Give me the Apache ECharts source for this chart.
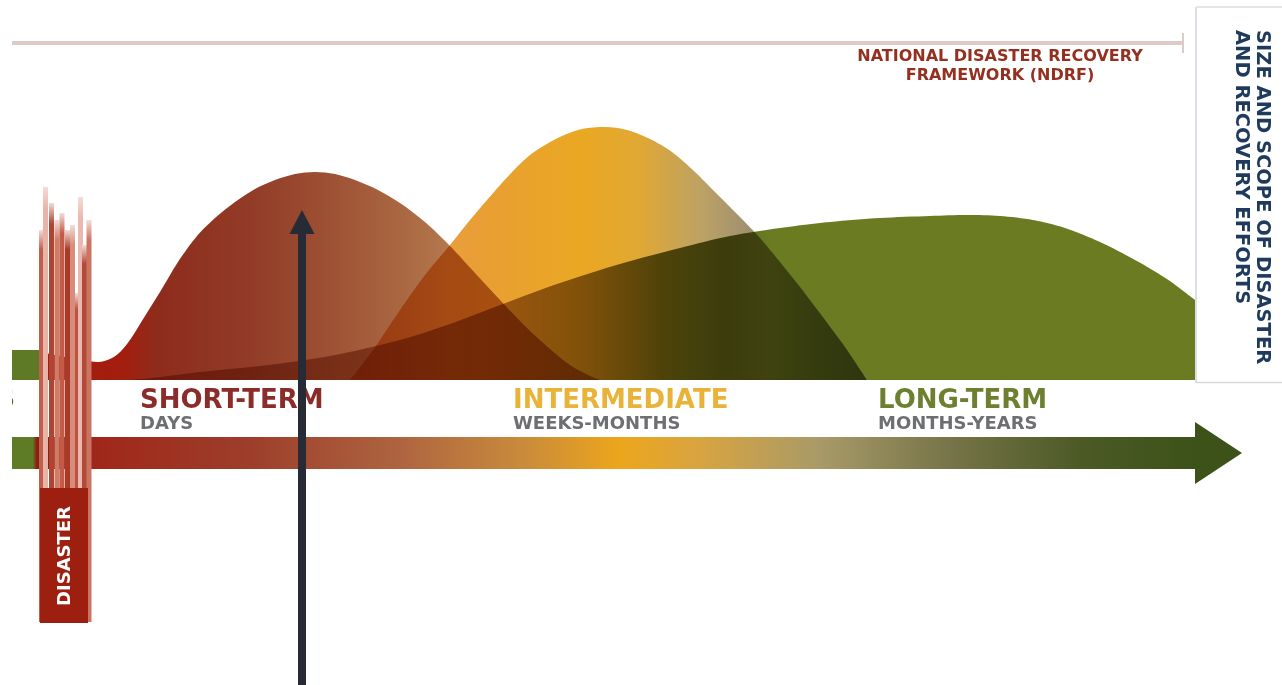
<!DOCTYPE html>
<html>
<head>
<meta charset="utf-8">
<title>Recovery Continuum</title>
<script src="https://cdn.jsdelivr.net/npm/echarts@6/dist/echarts.min.js"></script>
<style>
  html, body { margin: 0; padding: 0; background: #ffffff; }
  #chart { width: 1282px; height: 685px; }
</style>
</head>
<body>
<div id="chart"></div>
<script>
// Recovery continuum: x runs along the timeline arrow, y is the size and scope
// of the recovery effort measured up from the baseline.
const preparedness = [[12, 30], [40, 30]];
const shortTerm = [[40, 28], [60, 24], [80, 20], [98, 18], [112, 22], [122, 30], [132, 43], [145, 64], [160, 88], [178, 118], [197, 144], [215, 162], [235, 178], [255, 191], [275, 200], [295, 206], [315, 208], [335, 206], [355, 200], [378, 190], [400, 177], [425, 158], [450, 134], [475, 107], [500, 80], [525, 54], [550, 31], [570, 15], [590, 4], [600, 0]];
const intermediate = [[350, 0], [373, 30], [400, 70], [425, 105], [450, 135], [470, 160], [487, 180], [502, 197], [516, 212], [530, 225], [545, 235], [562, 244], [582, 251], [605, 253], [627, 250], [650, 241], [672, 228], [695, 208], [718, 185], [740, 163], [760, 142], [780, 118], [800, 93], [822, 64], [845, 33], [867, 0]];
const longTerm = [[130, 0], [160, 3], [200, 8], [260, 14], [330, 24], [400, 40], [450, 56], [503, 76], [560, 97], [620, 116], [680, 132], [730, 144], [780, 152], [830, 158], [880, 162], [930, 164], [967, 165], [1000, 164], [1033, 160], [1065, 152], [1100, 138], [1135, 120], [1167, 101], [1195, 80]];

// Disaster impact stripes: [position, height]
const disasterStripes = [[41.5, 150], [45.5, 193], [51.5, 177], [57, 160], [62, 167], [67.5, 150], [72.5, 155], [77.5, 87], [80.5, 183], [84.5, 135], [89, 160]];

// Where the pointer arrow aims: the short-term peak
const pointerTarget = [[302, 170]];

const phaseNames = ['SHORT-TERM', 'INTERMEDIATE', 'LONG-TERM'];
const phaseSpans = ['DAYS', 'WEEKS-MONTHS', 'MONTHS-YEARS'];

// ---- styling ----
const FONT = '"DejaVu Sans", Verdana, sans-serif';
const phaseColors = ['#8c2c2a', '#e9b33a', '#6c8030'];
const phaseLeft = [140, 513, 878];
const stripePalette = ['#c0604c', '#e8b4a8', '#b04432', '#d07a68', '#c45a48', '#a83a28', '#d88c7c', '#bc5240', '#eab8ae', '#b24a38', '#cc7462'];
const STRIPE_BASE = -242;
const AXIS_BOTTOM = -305;

const grad = (stops) => new echarts.graphic.LinearGradient(0, 0, 1, 0,
  stops.map(([offset, color]) => ({ offset, color })));

function areaSeries(name, data, fill, z) {
  return {
    type: 'line', name, data, z,
    smooth: 0.3,
    showSymbol: false, symbol: 'none', silent: true,
    lineStyle: { width: 0 },
    blendMode: 'multiply',
    areaStyle: { opacity: 1, origin: 'auto', color: fill }
  };
}

const chart = echarts.init(document.getElementById('chart'), null, { renderer: 'canvas' });

const phaseGraphics = [];
phaseNames.forEach((name, i) => {
  phaseGraphics.push({
    type: 'text', x: phaseLeft[i], y: 401, z: 20,
    style: { text: name, fill: phaseColors[i], fontFamily: FONT, fontWeight: 'bold', fontSize: 26,
      align: 'left', verticalAlign: 'middle', textAlign: 'left', textVerticalAlign: 'middle' }
  });
  phaseGraphics.push({
    type: 'text', x: phaseLeft[i], y: 424, z: 20,
    style: { text: phaseSpans[i], fill: '#6e6f73', fontFamily: FONT, fontWeight: 'bold', fontSize: 18,
      align: 'left', verticalAlign: 'middle', textAlign: 'left', textVerticalAlign: 'middle' }
  });
});

const option = {
  backgroundColor: '#ffffff',
  animation: false,
  grid: { left: 0, right: 0, top: 0, bottom: 0 },
  xAxis: { type: 'value', min: 0, max: 1282, show: false },
  yAxis: { type: 'value', min: AXIS_BOTTOM, max: 380, show: false },
  series: [
    areaSeries('Preparedness', preparedness, '#5f7a26', 2),
    areaSeries('Long-term', longTerm, grad([
      [0, '#c49476'], [0.2, '#c09070'], [0.33, '#b08a5c'], [0.42, '#8e7c44'],
      [0.5, '#5e6622'], [0.56, '#58641e'], [0.6, '#6b7b22'], [1, '#6b7b22']
    ]), 2),
    areaSeries('Intermediate', intermediate, grad([
      [0, '#eea058'], [0.12, '#eca04a'], [0.25, '#e89e34'], [0.45, '#eaa822'],
      [0.56, '#e0a834'], [0.68, '#bca264'], [0.76, '#a49270'], [0.9, '#7e7c72'], [1, '#706e6a']
    ]), 3),
    areaSeries('Short-term', shortTerm, grad([
      [0, '#a81c0c'], [0.15, '#a21e0e'], [0.21, '#8e2c1c'], [0.38, '#923c28'],
      [0.5, '#9c4e32'], [0.65, '#aa6842'], [0.73, '#b4784e'], [1, '#c28c5c']
    ]), 4),
    {
      type: 'custom', name: 'Disaster', data: disasterStripes, z: 6, silent: true,
      renderItem(params, api) {
        const x = api.value(0);
        const top = api.coord([x, api.value(1)]);
        const bottom = api.coord([x, STRIPE_BASE]);
        const w = api.size([5, 0])[0];
        const c = stripePalette[params.dataIndex % stripePalette.length];
        return {
          type: 'rect',
          shape: { x: top[0] - w / 2, y: top[1], width: w, height: bottom[1] - top[1] },
          style: { fill: new echarts.graphic.LinearGradient(0, 0, 0, 1, [
            { offset: 0, color: '#f4dcd6' }, { offset: 0.05, color: c }, { offset: 1, color: c }
          ]) }
        };
      }
    },
    {
      type: 'custom', name: 'Pointer', data: pointerTarget, z: 30, silent: true,
      renderItem(params, api) {
        const tip = api.coord([api.value(0), api.value(1)]);
        const base = api.coord([api.value(0), AXIS_BOTTOM]);
        const headH = 24, headW = 12.5, shaft = 4;
        return {
          type: 'group',
          children: [
            { type: 'rect', shape: { x: tip[0] - shaft, y: tip[1] + headH - 1, width: shaft * 2, height: base[1] - tip[1] - headH + 1 },
              style: { fill: '#272b36' } },
            { type: 'polygon', shape: { points: [[tip[0], tip[1]], [tip[0] - headW, tip[1] + headH], [tip[0] + headW, tip[1] + headH]] },
              style: { fill: '#272b36' } }
          ]
        };
      }
    }
  ],
  graphic: [
    // framework rule along the top
    { type: 'line', z: 1, shape: { x1: 12, y1: 43, x2: 1183, y2: 43 }, style: { stroke: '#dccbc7', lineWidth: 4 } },
    { type: 'line', z: 1, shape: { x1: 1183, y1: 33, x2: 1183, y2: 53 }, style: { stroke: '#dccbc7', lineWidth: 2 } },
    { type: 'text', x: 1000, y: 66.5, z: 20,
      style: { text: 'NATIONAL DISASTER RECOVERY\nFRAMEWORK (NDRF)', fill: '#93301f', fontFamily: FONT,
        fontWeight: 'bold', fontSize: 16, lineHeight: 19,
        align: 'center', verticalAlign: 'middle', textAlign: 'center', textVerticalAlign: 'middle' } },
    // vertical axis panel
    { type: 'line', z: 1, shape: { x1: 1196, y1: 7, x2: 1196, y2: 383 }, style: { stroke: '#dcdfe6', lineWidth: 2 } },
    { type: 'line', z: 1, shape: { x1: 1196, y1: 7, x2: 1282, y2: 7 }, style: { stroke: '#e4e6ea', lineWidth: 2 } },
    { type: 'line', z: 1, shape: { x1: 1196, y1: 382.5, x2: 1282, y2: 382.5 }, style: { stroke: '#d6d8dc', lineWidth: 1.5 } },
    { type: 'text', x: 1273, y: 30, rotation: -Math.PI / 2, z: 20,
      style: { text: 'SIZE AND SCOPE OF DISASTER\nAND RECOVERY EFFORTS', fill: '#1e3a5c', fontFamily: FONT,
        fontWeight: 'bold', fontSize: 19.5, lineHeight: 21,
        align: 'left', verticalAlign: 'top', textAlign: 'left', textVerticalAlign: 'top' } },
    // timeline arrow
    { type: 'polygon', z: 3,
      shape: { points: [[12, 437], [1195, 437], [1195, 422], [1242, 453], [1195, 484], [1195, 469], [12, 469]] },
      style: { fill: grad([
        [0, '#5e7b26'], [0.017, '#5e7b26'], [0.02, '#8a2010'], [0.072, '#a0281a'], [0.193, '#9c3e2a'],
        [0.315, '#ae6440'], [0.413, '#c88a3c'], [0.494, '#eca61c'], [0.559, '#d8a440'], [0.657, '#a89a68'],
        [0.763, '#767448'], [0.868, '#4c5a26'], [0.962, '#3c5218'], [1, '#3c5218']
      ]) } },
    // cut-off phase name at the left edge
    { type: 'text', x: 15, y: 401, z: 19,
      style: { text: 'PREPAREDNESS', fill: '#5a6a3a', fontFamily: FONT, fontWeight: 'bold', fontSize: 24,
        align: 'right', verticalAlign: 'middle', textAlign: 'right', textVerticalAlign: 'middle' } },
    { type: 'rect', z: 19.5, shape: { x: 0, y: 384, width: 12, height: 50 }, style: { fill: '#ffffff' } },
    ...phaseGraphics,
    // disaster marker
    { type: 'rect', z: 21, shape: { x: 40, y: 488, width: 48, height: 135 }, style: { fill: '#9c1f10' } },
    { type: 'text', x: 65, y: 556, rotation: Math.PI / 2, z: 22,
      style: { text: 'DISASTER', fill: '#ffffff', fontFamily: FONT, fontWeight: 'bold', fontSize: 18,
        align: 'center', verticalAlign: 'middle', textAlign: 'center', textVerticalAlign: 'middle' } }
  ]
};

chart.setOption(option);
</script>
</body>
</html>
